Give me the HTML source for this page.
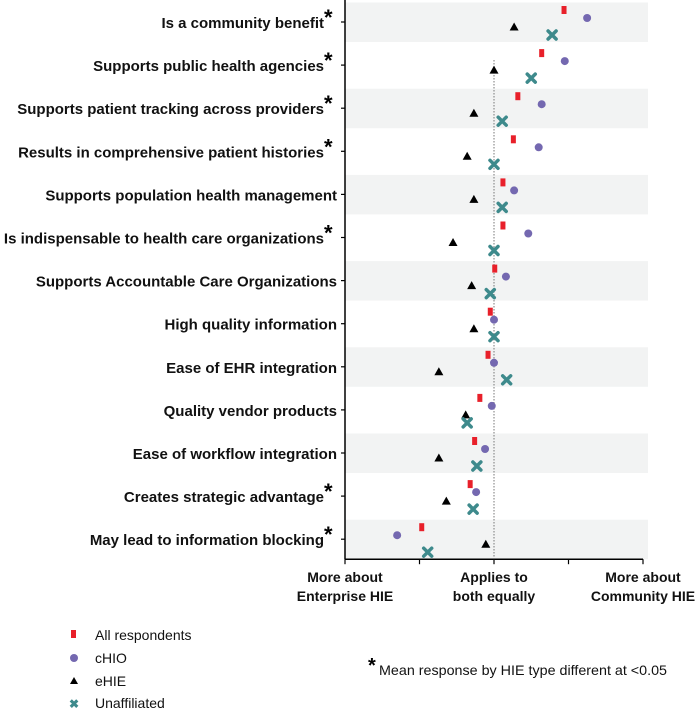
<!DOCTYPE html>
<html><head><meta charset="utf-8"><style>
html,body{margin:0;padding:0;background:#fff;}
svg{display:block;font-family:"Liberation Sans",Arial,sans-serif;}
</style></head><body>
<svg id="chart" width="697" height="709" viewBox="0 0 697 709" xmlns="http://www.w3.org/2000/svg">
<g id="bands"></g>
<g id="axes"></g>
<g id="labels"></g>
<g id="marks"></g>
<g id="legend">
  <rect x="71" y="630" width="5" height="8" fill="#e8202a"/>
  <text x="95" y="640" font-size="14" fill="#111">All respondents</text>
  <circle cx="74" cy="658" r="4" fill="#7468b0"/>
  <text x="95" y="663" font-size="14" fill="#111">cHIO</text>
  <polygon points="74,677 78,684 70,684" fill="#000"/>
  <text x="95" y="686" font-size="14" fill="#111">eHIE</text>
  <text x="74" y="708" font-size="12" font-weight="bold" text-anchor="middle" fill="#3e8a8c">✖</text>
  <text x="95" y="708" font-size="14" fill="#111">Unaffiliated</text>
</g>
<g>
  <text x="368" y="672" font-size="20" font-weight="bold" fill="#000">*</text>
  <text x="379" y="675" font-size="14" fill="#111" textLength="288" lengthAdjust="spacingAndGlyphs">Mean response by HIE type different at &lt;0.05</text>
</g>
</svg>
<script>
const categories = ["Is a community benefit","Supports public health agencies","Supports patient tracking across providers","Results in comprehensive patient histories","Supports population health management","Is indispensable to health care organizations","Supports Accountable Care Organizations","High quality information","Ease of EHR integration","Quality vendor products","Ease of workflow integration","Creates strategic advantage","May lead to information blocking"];
const significant = [true,true,true,true,false,true,false,false,false,false,false,true,true];
const allRespondents = [0.94,0.64,0.32,0.26,0.12,0.12,0.01,-0.05,-0.08,-0.19,-0.26,-0.32,-0.97];
const chio = [1.25,0.95,0.64,0.60,0.27,0.46,0.16,0.0,0.0,-0.03,-0.12,-0.24,-1.30];
const ehie = [0.27,0.0,-0.27,-0.36,-0.27,-0.55,-0.30,-0.27,-0.74,-0.38,-0.74,-0.64,-0.11];
const unaffiliated = [0.78,0.50,0.11,0.0,0.11,0.0,-0.05,0.0,0.17,-0.36,-0.23,-0.28,-0.89];
const tickValues = [-2,-1,0,1,2];
const tickLabels = [["More about","Enterprise HIE"],null,["Applies to","both equally"],null,["More about","Community HIE"]];

(function(){
const NS="http://www.w3.org/2000/svg";
const x0=345, x1=643, rowH=43.1;
function xs(v){return 494+v*(x1-x0)/4;}
function yc(i){return 22+i*rowH;}
function mk(tag,attrs,parent){const e=document.createElementNS(NS,tag);for(const k in attrs)e.setAttribute(k,attrs[k]);parent.appendChild(e);return e;}
const bands=document.getElementById('bands'),axes=document.getElementById('axes'),labels=document.getElementById('labels'),marks=document.getElementById('marks');
const bottom=yc(categories.length-1)+20;
categories.forEach((c,i)=>{
  if(i%2===0){
    const b=mk('rect',{x:x0,y:yc(i)-19.5,width:648-x0,height:39.5,fill:'#f2f3f3'},bands);
    
    
  }
  const t=mk('line',{x1:x0-4,x2:x0,y1:yc(i),y2:yc(i),stroke:'#000','stroke-width':1.2},axes);
  
  
  const lx=significant[i]?324:337;
  const tx=mk('text',{x:lx,y:yc(i)+6,'font-size':15,'font-weight':'bold','text-anchor':'end',fill:'#111'},labels);
  tx.textContent=c;
  
  
  if(significant[i]){
    const s=mk('text',{x:324,y:yc(i)+3,'font-size':22,'font-weight':'bold',fill:'#000'},labels);
    s.textContent='*';
    
    
  }
});
const yax=mk('line',{x1:x0,x2:x0,y1:0,y2:bottom,stroke:'#000','stroke-width':1.5},axes);


const xax=mk('line',{x1:x0,x2:x1,y1:bottom,y2:bottom,stroke:'#000','stroke-width':1.5},axes);


const ref=mk('line',{x1:xs(0),x2:xs(0),y1:60,y2:bottom,stroke:'#777','stroke-width':1,'stroke-dasharray':'1.5,1.5'},axes);


tickValues.forEach((v,i)=>{
  const t=mk('line',{x1:xs(v),x2:xs(v),y1:bottom,y2:bottom+5,stroke:'#000','stroke-width':1.2},axes);
  
  
  if(tickLabels[i]){
    tickLabels[i].forEach((l,j)=>{
      const tx=mk('text',{x:xs(v),y:bottom+23+j*19,'font-size':14,'font-weight':'bold','text-anchor':'middle',fill:'#111'},axes);
      tx.textContent=l;
      
      
    });
  }
});
categories.forEach((c,i)=>{
  const y=yc(i);
  const r=mk('rect',{x:xs(allRespondents[i])-2.5,y:y-16,width:5,height:8,fill:'#e8202a'},marks);
  
  
  const ci=mk('circle',{cx:xs(chio[i]),cy:y-4,r:4,fill:'#7468b0'},marks);
  
  
  const tx=xs(ehie[i]),ty=y+5;
  const tr=mk('polygon',{points:`${tx},${ty-4.5} ${tx+4.5},${ty+3.5} ${tx-4.5},${ty+3.5}`,fill:'#000'},marks);
  
  
  const ux=xs(unaffiliated[i]),uy=y+13;
  const u=mk('path',{d:`M${ux-4},${uy-4}L${ux+4},${uy+4}M${ux+4},${uy-4}L${ux-4},${uy+4}`,stroke:'#3e8a8c','stroke-width':3.5,'stroke-linecap':'round'},marks);
  
  
});
})();
</script>
</body></html>
